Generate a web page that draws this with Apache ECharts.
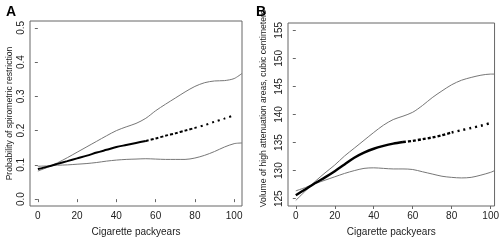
<!DOCTYPE html>
<html>
<head>
<meta charset="utf-8">
<script src="https://cdn.jsdelivr.net/npm/echarts@6/dist/echarts.min.js"></script>
<style>
  html, body { margin: 0; padding: 0; background: #fff; }
  #main { width: 502px; height: 242px; }
</style>
</head>
<body>
<div id="main"></div>
<script>
var pkyA = [0, 5, 10, 15, 20, 25, 30, 35, 40, 45, 50, 55, 60, 65, 70, 75, 80, 85, 90, 95, 100, 104];
var upperA = [0.082, 0.093, 0.106, 0.121, 0.137, 0.153, 0.169, 0.185, 0.200, 0.211, 0.221, 0.236, 0.258, 0.277, 0.295, 0.313, 0.329, 0.340, 0.345, 0.346, 0.352, 0.367];
var lowerA = [0.096, 0.097, 0.099, 0.100, 0.102, 0.104, 0.107, 0.111, 0.114, 0.116, 0.117, 0.118, 0.117, 0.116, 0.116, 0.116, 0.120, 0.128, 0.139, 0.152, 0.162, 0.164];
var fitA = [0.088, 0.095, 0.103, 0.111, 0.119, 0.127, 0.136, 0.144, 0.152, 0.158, 0.164, 0.170, 0.177, 0.185, 0.192, 0.200, 0.208, 0.216, 0.226, 0.235, 0.245];

var pkyB = [0, 5, 10, 15, 20, 25, 30, 35, 40, 45, 50, 55, 60, 65, 70, 75, 80, 85, 90, 95, 100, 102];
var upperB = [124.7, 126.4, 128.1, 129.6, 131.0, 132.6, 134.0, 135.4, 136.8, 138.1, 139.1, 139.7, 140.4, 141.6, 143.0, 144.2, 145.3, 146.1, 146.6, 147.0, 147.2, 147.2];
var lowerB = [126.4, 127.0, 127.7, 128.3, 128.9, 129.5, 130.0, 130.4, 130.5, 130.4, 130.3, 130.3, 130.2, 129.8, 129.4, 129.0, 128.8, 128.7, 128.8, 129.2, 129.7, 130.0];
var fitB = [125.6, 126.7, 127.8, 128.8, 129.9, 131.1, 132.3, 133.2, 133.9, 134.4, 134.8, 135.1, 135.3, 135.6, 135.9, 136.3, 136.8, 137.2, 137.6, 138.0, 138.5];

var xTicks = [0, 20, 40, 60, 80, 100];
var yTicksA = [0, 0.1, 0.2, 0.3, 0.4, 0.5];
var yTicksB = [125, 130, 135, 140, 145, 150, 155];

var FONT = '"Liberation Sans Narrow", "Liberation Sans", Arial, sans-serif';
var BOX = '#666';

function pairs(xs, ys, from, to) {
    var out = [];
    for (var i = 0; i < ys.length; i++) {
        if (xs[i] >= from && xs[i] <= to) out.push([xs[i], ys[i]]);
    }
    return out;
}

function xAxisCfg(idx, max) {
    return {
        type: 'value', gridIndex: idx, min: -4, max: max,
        name: 'Cigarette packyears', nameLocation: 'middle', nameGap: 21,
        nameTextStyle: { fontFamily: FONT, fontSize: 10, color: '#222' },
        axisLine: { show: false },
        splitLine: { show: false },
        axisTick: { show: true, length: 3, customValues: xTicks, lineStyle: { color: BOX } },
        axisLabel: { customValues: xTicks, margin: 5, fontFamily: FONT, fontSize: 10, color: '#222' }
    };
}

function yAxisCfg(idx, min, max, ticks, name, gap, pad, fmt) {
    return {
        type: 'value', gridIndex: idx, min: min, max: max,
        name: name, nameLocation: 'middle', nameGap: gap, nameRotate: 90,
        nameTextStyle: { fontFamily: FONT, fontSize: 8.6, color: '#222', padding: pad },
        axisLine: { show: false },
        splitLine: { show: false },
        axisTick: { show: true, length: 3, customValues: ticks, lineStyle: { color: BOX } },
        axisLabel: { customValues: ticks, rotate: 90, margin: 4, fontFamily: FONT, fontSize: 10, color: '#222', formatter: fmt }
    };
}

function band(idx, xs, ys) {
    return {
        type: 'line', xAxisIndex: idx, yAxisIndex: idx, data: pairs(xs, ys, -1, 200),
        showSymbol: false, smooth: 0.3, lineStyle: { color: '#777', width: 1 }, z: 2
    };
}

function fitPart(idx, xs, ys, from, to, width, dash) {
    return {
        type: 'line', xAxisIndex: idx, yAxisIndex: idx, data: pairs(xs, ys, from, to),
        showSymbol: false, smooth: 0.3,
        lineStyle: { color: '#000', width: width, type: dash, cap: 'butt' }, z: 3
    };
}

var chart = echarts.init(document.getElementById('main'), null, { renderer: 'canvas' });
chart.setOption({
    animation: false,
    backgroundColor: '#fff',
    title: [
        { text: 'A', left: 1, top: 0, textStyle: { fontFamily: 'Liberation Sans, Arial', fontSize: 14, fontWeight: 'bold', color: '#000' } },
        { text: 'B', left: 251, top: 0, textStyle: { fontFamily: 'Liberation Sans, Arial', fontSize: 14, fontWeight: 'bold', color: '#000' } }
    ],
    grid: [
        { left: 30, top: 21, width: 212, height: 190, show: true, borderColor: BOX, borderWidth: 1, backgroundColor: 'transparent' },
        { left: 288, top: 23, width: 213, height: 189, show: true, borderColor: BOX, borderWidth: 1, backgroundColor: 'transparent' }
    ],
    xAxis: [xAxisCfg(0, 104), xAxisCfg(1, 102)],
    yAxis: [
        yAxisCfg(0, -0.02, 0.52, yTicksA, 'Probability of spirometric restriction', 16, [0, 0, 0, 0], function (v) { return v.toFixed(1); }),
        yAxisCfg(1, 123.7, 156.3, yTicksB, 'Volume of high attenuation areas, cubic centimeters', 20, [0, 0, 0, 12], function (v) { return String(v); })
    ],
    series: [
        band(0, pkyA, upperA),
        band(0, pkyA, lowerA),
        fitPart(0, pkyA, fitA, 0, 55, 2, 'solid'),
        fitPart(0, pkyA, fitA, 55, 80, 2, [3, 2]),
        fitPart(0, pkyA, fitA, 80, 100, 2, [2, 4]),
        band(1, pkyB, upperB),
        band(1, pkyB, lowerB),
        fitPart(1, pkyB, fitB, 0, 57, 2.4, 'solid'),
        fitPart(1, pkyB, fitB, 55, 80, 2.4, [3, 2]),
        fitPart(1, pkyB, fitB, 80, 100, 2.4, [2, 4])
    ]
});
</script>
</body>
</html>
